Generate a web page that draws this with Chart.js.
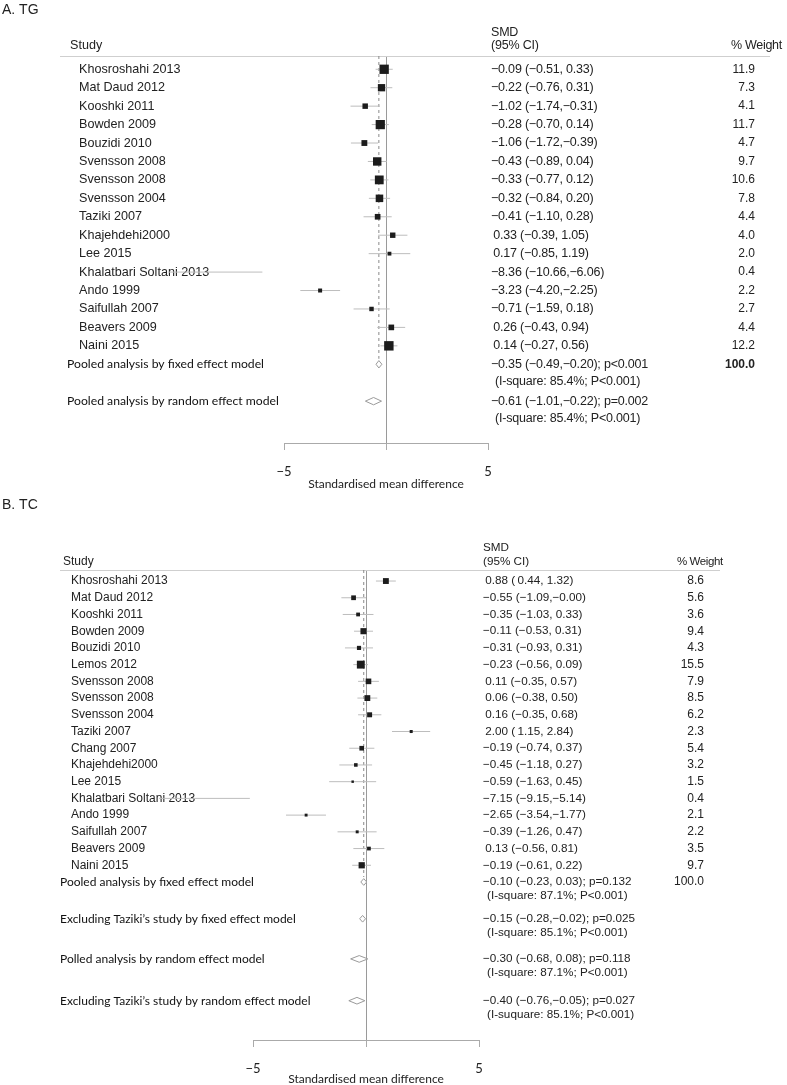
<!DOCTYPE html>
<html>
<head>
<meta charset="utf-8">
<script src="https://cdn.jsdelivr.net/npm/chart.js@4"></script>
<style>
  body { margin: 0; background: #fff; width: 787px; height: 1085px; overflow: hidden; position: relative; }
  canvas { position: absolute; left: 0; }
  #tgChart { top: 0; }
  #tcChart { top: 495px; }
</style>
</head>
<body>
<canvas id="tgChart" width="787" height="495"></canvas>
<canvas id="tcChart" width="787" height="590"></canvas>
<script>
// A. TG
const tgStudies = ['Khosroshahi 2013', 'Mat Daud 2012', 'Kooshki 2011', 'Bowden 2009', 'Bouzidi 2010', 'Svensson 2008',
    'Svensson 2008', 'Svensson 2004', 'Taziki 2007', 'Khajehdehi2000', 'Lee 2015', 'Khalatbari Soltani 2013',
    'Ando 1999', 'Saifullah 2007', 'Beavers 2009', 'Naini 2015'];
const tgSmd = [-0.09, -0.22, -1.02, -0.28, -1.06, -0.43, -0.33, -0.32, -0.41, 0.33, 0.17, -8.36, -3.23, -0.71, 0.26, 0.14];
const tgLower = [-0.51, -0.76, -1.74, -0.70, -1.72, -0.89, -0.77, -0.84, -1.10, -0.39, -0.85, -10.66, -4.20, -1.59, -0.43, -0.27];
const tgUpper = [0.33, 0.31, -0.31, 0.14, -0.39, 0.04, 0.12, 0.20, 0.28, 1.05, 1.19, -6.06, -2.25, 0.18, 0.94, 0.56];
const tgWeight = [11.9, 7.3, 4.1, 11.7, 4.7, 9.7, 10.6, 7.8, 4.4, 4.0, 2.0, 0.4, 2.2, 2.7, 4.4, 12.2];
const tgSumLabels = ['Pooled analysis by fixed effect model', 'Pooled analysis by random effect model'];
const tgSumSmd = [-0.35, -0.61];
const tgSumLower = [-0.49, -1.01];
const tgSumUpper = [-0.20, -0.22];
const tgSumP = ['p<0.001', 'p=0.002'];
const tgSumNotes = ['(I-square: 85.4%; P<0.001)', '(I-square: 85.4%; P<0.001)'];
const tgSumWeight = ['100.0', ''];

// B. TC
const tcStudies = ['Khosroshahi 2013', 'Mat Daud 2012', 'Kooshki 2011', 'Bowden 2009', 'Bouzidi 2010', 'Lemos 2012',
    'Svensson 2008', 'Svensson 2008', 'Svensson 2004', 'Taziki 2007', 'Chang 2007', 'Khajehdehi2000', 'Lee 2015',
    'Khalatbari Soltani 2013', 'Ando 1999', 'Saifullah 2007', 'Beavers 2009', 'Naini 2015'];
const tcSmd = [0.88, -0.55, -0.35, -0.11, -0.31, -0.23, 0.11, 0.06, 0.16, 2.00, -0.19, -0.45, -0.59, -7.15, -2.65, -0.39, 0.13, -0.19];
const tcLower = [0.44, -1.09, -1.03, -0.53, -0.93, -0.56, -0.35, -0.38, -0.35, 1.15, -0.74, -1.18, -1.63, -9.15, -3.54, -1.26, -0.56, -0.61];
const tcUpper = [1.32, -0, 0.33, 0.31, 0.31, 0.09, 0.57, 0.50, 0.68, 2.84, 0.37, 0.27, 0.45, -5.14, -1.77, 0.47, 0.81, 0.22];
const tcWeight = [8.6, 5.6, 3.6, 9.4, 4.3, 15.5, 7.9, 8.5, 6.2, 2.3, 5.4, 3.2, 1.5, 0.4, 2.1, 2.2, 3.5, 9.7];
const tcSumLabels = ['Pooled analysis by fixed effect model', 'Excluding Taziki\u2019s study by fixed effect model',
    'Polled analysis by random effect model', 'Excluding Taziki\u2019s study by random effect model'];
const tcSumSmd = [-0.10, -0.15, -0.30, -0.40];
const tcSumLower = [-0.23, -0.28, -0.68, -0.76];
const tcSumUpper = [0.03, -0.02, 0.08, -0.05];
const tcSumP = ['p=0.132', 'p=0.025', 'p=0.118', 'p=0.027'];
const tcSumNotes = ['(I-square: 87.1%; P<0.001)', '(I-square: 85.1%; P<0.001)', '(I-square: 87.1%; P<0.001)', '(I-suquare: 85.1%; P<0.001)'];
const tcSumWeight = ['100.0', '', '', ''];

const axisTicks = [-5, 0, 5];
const axisTickLabels = ['\u22125', '', '5'];
const axisTitle = 'Standardised mean difference';

const SANS = '"Liberation Sans", Arial, sans-serif';
const HUMAN = 'Lato, "Open Sans", sans-serif';

function num(v) {
    const neg = v < 0 || Object.is(v, -0);
    return (neg ? '\u2212' : ' ') + Math.abs(v).toFixed(2);
}
function ciText(est, lo, hi) {
    return num(est).replace(/^ /, '\u2009') + ' (' + num(lo).replace(/^ /, '\u2009') + ',' + num(hi) + ')';
}

function forestChart(id, p) {
    const n = p.studies.length;
    const rows = p.studies.map((s, i) => i + 1);
    const sumRows = p.sumOffsets.map(o => n + o);

    const ciData = [];
    rows.forEach((r, i) => {
        ciData.push({x: p.lower[i], y: r}, {x: p.upper[i], y: r}, {x: null, y: null});
    });

    const diamonds = sumRows.map((r, i) => ({
        data: [
            {x: p.sumLower[i], y: r}, {x: p.sumSmd[i], y: r - 0.2}, {x: p.sumUpper[i], y: r},
            {x: p.sumSmd[i], y: r + 0.2}, {x: p.sumLower[i], y: r}
        ],
        borderColor: '#9a9a9a',
        borderWidth: 1,
        backgroundColor: '#fff',
        fill: 'shape',
        pointRadius: 0,
        clip: false
    }));

    const textPlugin = {
        id: 'forestText',
        beforeDatasetsDraw(chart) {
            const ctx = chart.ctx;
            const y = chart.scales.y;
            const area = chart.chartArea;
            ctx.save();
            ctx.fillStyle = '#222';
            ctx.textBaseline = 'middle';
            ctx.textAlign = 'left';

            ctx.font = '14px ' + SANS;
            ctx.fillText(p.title, 2, p.titleY);

            // header
            ctx.font = p.nameSize + 'px ' + SANS;
            ctx.fillText('Study', p.studyHeadX, p.headY2);
            ctx.font = p.weightHeadSize + 'px ' + SANS;
            ctx.letterSpacing = p.weightHeadSpacing;
            ctx.fillText('% Weight', p.weightHeadX, p.headY2);
            ctx.font = p.smdSize + 'px ' + SANS;
            ctx.letterSpacing = p.smdSpacing;
            ctx.fillText('SMD', p.smdX, p.headY1);
            ctx.fillText('(95% CI)', p.smdX, p.headY2);
            ctx.letterSpacing = '0px';
            ctx.strokeStyle = '#cfcfcf';
            ctx.lineWidth = 1;
            ctx.beginPath();
            ctx.moveTo(p.lineX1, area.top + 0.5);
            ctx.lineTo(p.lineX2, area.top + 0.5);
            ctx.stroke();

            // studies
            rows.forEach((r, i) => {
                const py = y.getPixelForValue(r);
                ctx.textAlign = 'left';
                ctx.font = p.nameSize + 'px ' + SANS;
                ctx.fillText(p.studies[i], p.nameX, py);
                ctx.font = p.smdSize + 'px ' + SANS;
                ctx.letterSpacing = p.smdSpacing;
                ctx.fillText(ciText(p.smd[i], p.lower[i], p.upper[i]), p.smdX, py);
                ctx.letterSpacing = '0px';
                ctx.textAlign = 'right';
                ctx.font = p.weightSize + 'px ' + SANS;
                ctx.fillText(p.weight[i].toFixed(1), p.weightX, py);
            });

            // pooled rows
            sumRows.forEach((r, i) => {
                const py = y.getPixelForValue(r);
                ctx.textAlign = 'left';
                ctx.fillStyle = '#111';
                ctx.font = p.sumSize + 'px ' + HUMAN;
                ctx.fillText(p.sumLabels[i], p.sumX, py);
                ctx.fillStyle = '#222';
                ctx.font = p.smdSize + 'px ' + SANS;
                ctx.letterSpacing = p.smdSpacing;
                ctx.fillText(ciText(p.sumSmd[i], p.sumLower[i], p.sumUpper[i]) + '; ' + p.sumP[i], p.smdX, py);
                ctx.fillText(p.sumNotes[i], p.smdX + 4, py + p.noteGap);
                ctx.letterSpacing = '0px';
                ctx.textAlign = 'right';
                ctx.font = p.totalFont + p.weightSize + 'px ' + SANS;
                ctx.fillText(p.sumWeight[i], p.weightX, py);
            });
            ctx.restore();
        }
    };

    return new Chart(document.getElementById(id), {
        type: 'line',
        data: {
            datasets: [{
                label: 'SMD',
                data: rows.map((r, i) => ({x: p.smd[i], y: r})),
                showLine: false,
                pointStyle: 'rect',
                pointRadius: ctx => Math.max(2.4, p.sqK * Math.sqrt(p.weight[ctx.dataIndex])) / Math.SQRT2,
                pointBackgroundColor: '#1c1c1c',
                pointBorderWidth: 0,
                clip: false
            },
            ...diamonds,
            {
                label: '95% CI',
                data: ciData,
                borderColor: '#bdbdbd',
                borderWidth: 1,
                pointRadius: 0,
                spanGaps: false,
                clip: false
            }, {
                label: 'Pooled',
                data: [{x: p.sumSmd[0], y: p.yMin}, {x: p.sumSmd[0], y: sumRows[0] - 0.3}],
                borderColor: '#8a8a8a',
                borderWidth: 1,
                borderDash: [3, 3],
                pointRadius: 0,
                clip: false
            }]
        },
        options: {
            responsive: false,
            animation: false,
            devicePixelRatio: 1,
            events: [],
            layout: {
                padding: {left: p.left, right: 787 - p.right, top: p.top, bottom: 0}
            },
            plugins: {
                legend: {display: false},
                tooltip: {enabled: false}
            },
            scales: {
                x: {
                    type: 'linear',
                    min: -5,
                    max: 5,
                    afterBuildTicks: scale => {
                        scale.ticks = axisTicks.map(v => ({value: v}));
                    },
                    afterFit: scale => {
                        scale.height = p.height - p.axisY;
                    },
                    ticks: {
                        autoSkip: false,
                        maxRotation: 0,
                        padding: 14,
                        color: '#222',
                        font: {family: HUMAN, size: 13},
                        callback: v => axisTickLabels[axisTicks.indexOf(v)]
                    },
                    grid: {
                        color: ctx => (ctx.tick && ctx.tick.value === 0 ? '#9a9a9a' : 'rgba(0,0,0,0)'),
                        tickColor: '#aaa',
                        tickLength: 7,
                        drawOnChartArea: true
                    },
                    border: {display: true, color: '#aaa', width: 1},
                    title: {
                        display: true,
                        text: axisTitle,
                        color: '#222',
                        font: {family: HUMAN, size: 12, lineHeight: 1},
                        padding: {top: 0, bottom: p.titlePad}
                    }
                },
                y: {
                    type: 'linear',
                    display: false,
                    reverse: true,
                    min: p.yMin,
                    max: p.yMax
                }
            }
        },
        plugins: [textPlugin]
    });
}

forestChart('tgChart', {
    title: 'A. TG', titleY: 10,
    studies: tgStudies, smd: tgSmd, lower: tgLower, upper: tgUpper, weight: tgWeight,
    sumLabels: tgSumLabels, sumSmd: tgSumSmd, sumLower: tgSumLower, sumUpper: tgSumUpper,
    sumP: tgSumP, sumNotes: tgSumNotes, sumWeight: tgSumWeight,
    sumOffsets: [1, 3],
    height: 495, top: 56, axisY: 443, left: 284, right: 488, yMin: 0.28, yMax: 21.27,
    nameX: 79, sumX: 67, studyHeadX: 70, smdX: 491, weightX: 755, weightHeadX: 731,
    lineX1: 60, lineX2: 770, headY1: 33, headY2: 46, noteGap: 17,
    nameSize: 12.6, sumSize: 12.2, smdSize: 12.5, smdSpacing: '-0.2px', weightSize: 12,
    weightHeadSize: 12.5, weightHeadSpacing: '-0.3px',
    totalFont: 'bold ', sqK: 2.7, titlePad: 5
});

forestChart('tcChart', {
    title: 'B. TC', titleY: 10,
    studies: tcStudies, smd: tcSmd, lower: tcLower, upper: tcUpper, weight: tcWeight,
    sumLabels: tcSumLabels, sumSmd: tcSumSmd, sumLower: tcSumLower, sumUpper: tcSumUpper,
    sumP: tcSumP, sumNotes: tcSumNotes, sumWeight: tcSumWeight,
    sumOffsets: [1, 3.2, 5.6, 8.1],
    height: 590, top: 75, axisY: 545, left: 253, right: 479, yMin: 0.34, yMax: 28.45,
    nameX: 71, sumX: 60, studyHeadX: 63, smdX: 483, weightX: 704, weightHeadX: 677,
    lineX1: 60, lineX2: 720, headY1: 53, headY2: 67, noteGap: 14,
    nameSize: 12, sumSize: 12, smdSize: 11.7, smdSpacing: '0px', weightSize: 12,
    weightHeadSize: 11.5, weightHeadSpacing: '-0.4px',
    totalFont: '', sqK: 2.0, titlePad: 0
});
</script>
</body>
</html>
